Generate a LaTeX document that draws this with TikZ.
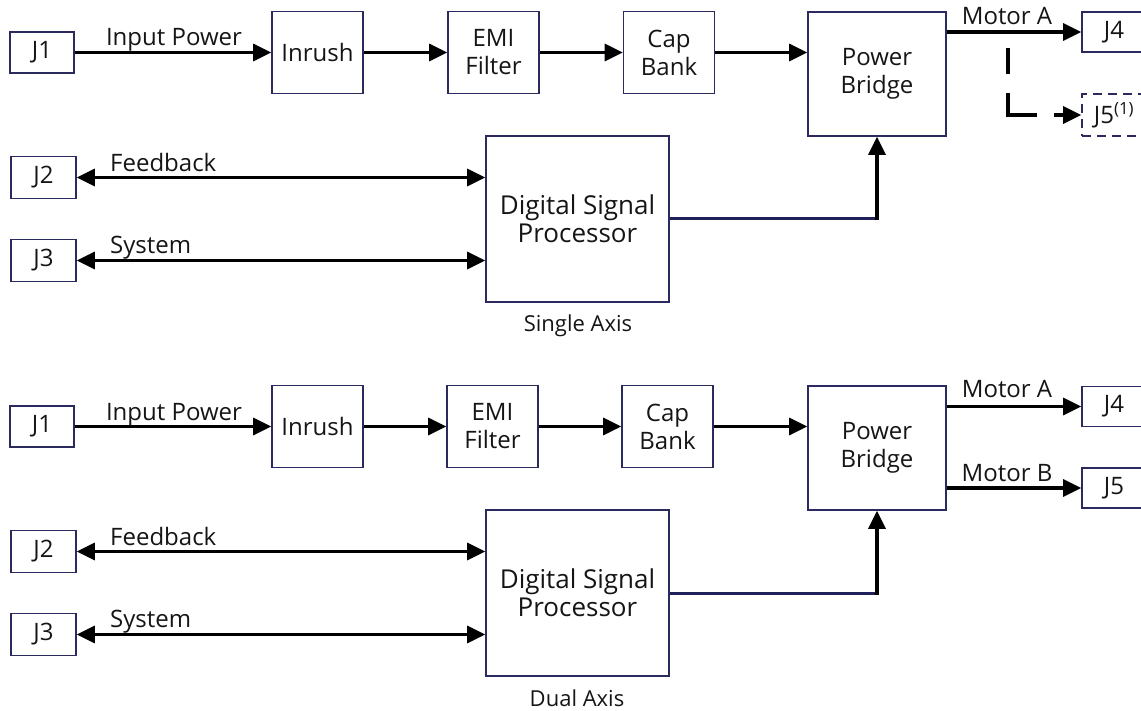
\documentclass[tikz,border=0pt]{standalone}
\usepackage{fontspec}
\setmainfont{Open Sans}
\usetikzlibrary{arrows.meta}
\definecolor{boxline}{HTML}{2A2A5E}
\definecolor{busline}{HTML}{20205A}
\definecolor{ink}{HTML}{151515}
\tikzset{
  box/.style={draw=boxline, line width=1.6pt, inner sep=0pt, align=center,
    text=ink, font=\fontsize{24}{28}\selectfont},
  bigbox/.style={box, font=\fontsize{26}{28}\selectfont},
  dashbox/.style={box, dash pattern=on 9pt off 6pt},
  conn/.style={draw=black, line width=3.2pt, -{Triangle[length=18pt,width=17pt]}},
  biconn/.style={draw=black, line width=3.2pt,
    {Triangle[length=18pt,width=17pt]}-{Triangle[length=18pt,width=17pt]}},
  bus/.style={draw=busline, line width=3pt},
  lbl/.style={inner sep=0pt, text=ink, font=\fontsize{24}{28}\selectfont},
  caption/.style={inner sep=0pt, text=ink, font=\fontsize{22}{26}\selectfont}
}
\begin{document}
\begin{tikzpicture}[x=1pt, y=-1pt]
\useasboundingbox (0,0) rectangle (1141,711);

% ---------------- single axis ----------------
\node[box, minimum width=64pt, minimum height=41pt] (j1a) at (42,52.5) {J1};
\node[box, minimum width=91pt, minimum height=82pt] (inra) at (317.5,52.5) {Inrush};
\node[box, minimum width=91pt, minimum height=82pt] (emia) at (493.5,52.5) {EMI\\Filter};
\node[box, minimum width=91pt, minimum height=82pt] (capa) at (669,52.5) {Cap\\Bank};
\node[box, minimum width=138pt, minimum height=124pt] (pba) at (877,74) {Power\\Bridge};
\node[box, minimum width=64pt, minimum height=40pt] (j4a) at (1114,32) {J4};
\node[dashbox, minimum width=64pt, minimum height=42pt] (j5a) at (1114,115) {J5\textsuperscript{(1)}};
\node[box, minimum width=65pt, minimum height=42pt] (j2a) at (43.5,177.5) {J2};
\node[box, minimum width=65pt, minimum height=42pt] (j3a) at (43.5,260.5) {J3};
\node[bigbox, minimum width=183pt, minimum height=166pt] (dspa) at (577.5,219) {Digital Signal\\Processor};

\draw[conn] (j1a.east) -- (inra.west);
\draw[conn] (inra.east) -- (emia.west);
\draw[conn] (emia.east) -- (capa.west);
\draw[conn] (capa.east) -- (capa.east -| pba.west);
\draw[conn] (pba.east |- j4a.west) -- (j4a.west);

\coordinate (tapa) at (1008,32);
\draw[conn, dash pattern=on 26pt off 19pt on 51pt off 17pt on 60pt off 16pt, dash phase=173pt]
  (tapa) |- (j5a.west);

\draw[biconn] (j2a.east) -- (j2a.east -| dspa.west);
\draw[biconn] (j3a.east) -- (j3a.east -| dspa.west);

\coordinate (corna) at (877,219);
\draw[bus] (dspa.east) -- (corna);
\draw[conn] ([yshift=-1.5pt]corna) -- (pba.south);

\node[lbl, anchor=base] at (174,46) {Input Power};
\node[lbl, anchor=base] at (1007,25) {Motor A};
\node[lbl, anchor=base west] at (110,171.5) {Feedback};
\node[lbl, anchor=base west] at (110,253.5) {System};
\node[caption] at (578,326) {Single Axis};

% ---------------- dual axis ----------------
\node[box, minimum width=64pt, minimum height=41pt] (j1b) at (42,426.5) {J1};
\node[box, minimum width=91pt, minimum height=82pt] (inrb) at (317.5,426.5) {Inrush};
\node[box, minimum width=91pt, minimum height=82pt] (emib) at (492.5,426.5) {EMI\\Filter};
\node[box, minimum width=91pt, minimum height=82pt] (capb) at (667.5,426.5) {Cap\\Bank};
\node[box, minimum width=138pt, minimum height=124pt] (pbb) at (877,448) {Power\\Bridge};
\node[box, minimum width=64pt, minimum height=40pt] (j4b) at (1114,406.5) {J4};
\node[box, minimum width=64pt, minimum height=40pt] (j5b) at (1114,488) {J5};
\node[box, minimum width=65pt, minimum height=42pt] (j2b) at (43.5,551.5) {J2};
\node[box, minimum width=65pt, minimum height=42pt] (j3b) at (43.5,634.5) {J3};
\node[bigbox, minimum width=183pt, minimum height=166pt] (dspb) at (577.5,593) {Digital Signal\\Processor};

\draw[conn] (j1b.east) -- (inrb.west);
\draw[conn] (inrb.east) -- (emib.west);
\draw[conn] (emib.east) -- (capb.west);
\draw[conn] (capb.east) -- (capb.east -| pbb.west);
\draw[conn] (pbb.east |- j4b.west) -- (j4b.west);
\draw[conn] (pbb.east |- j5b.west) -- (j5b.west);

\draw[biconn] (j2b.east) -- (j2b.east -| dspb.west);
\draw[biconn] (j3b.east) -- (j3b.east -| dspb.west);

\coordinate (cornb) at (877,593);
\draw[bus] (dspb.east) -- (cornb);
\draw[conn] ([yshift=-1.5pt]cornb) -- (pbb.south);

\node[lbl, anchor=base] at (174,420) {Input Power};
\node[lbl, anchor=base] at (1007,398) {Motor A};
\node[lbl, anchor=base] at (1007,481) {Motor B};
\node[lbl, anchor=base west] at (110,545.5) {Feedback};
\node[lbl, anchor=base west] at (110,627.5) {System};
\node[caption] at (577,698) {Dual Axis};
\end{tikzpicture}
\end{document}
